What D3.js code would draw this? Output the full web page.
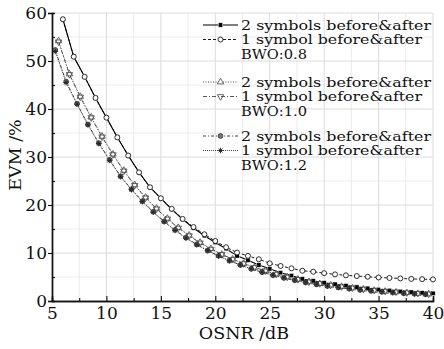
<!DOCTYPE html>
<html><head><meta charset="utf-8">
<script src="https://cdn.jsdelivr.net/npm/d3@7"></script>
<style>
html,body{margin:0;padding:0;background:#fff;}
svg{display:block;font-family:"DejaVu Serif",serif;}
</style></head>
<body><svg id="c" width="444" height="349"></svg>
<script>
// ---- data ----
const osnrA = [6,7,8,9,10,11,12,13,14,15,16,17,18,19,20,21,22,23,24,25,26,27,28,29,30,31,32,33,34,35,36,37,38,39,40];
const evmA  = [58.7,50.9,46.7,42.3,38.2,34.1,30.3,26.8,23.7,21.4,19.1,17.0,15.2,13.6,12.2,10.9,9.4,8.5,7.5,6.7,5.9,5.3,4.6,4.2,3.8,3.5,3.2,2.9,2.65,2.4,2.2,2.0,1.85,1.7,1.6];
const evmB  = [58.7,50.9,46.7,42.3,38.2,34.1,30.3,26.8,23.7,21.4,19.2,17.1,15.4,13.9,12.5,11.2,10.1,9.4,8.7,7.85,7.3,6.8,6.3,6.1,5.8,5.55,5.35,5.2,5.05,4.9,4.8,4.7,4.6,4.55,4.5];
const osnrC = [5.6,6.6,7.6,8.6,9.6,10.6,11.6,12.6,13.6,14.6,15.6,16.6,17.6,18.6,19.6,20.6,21.6,22.6,23.6,24.6,25.6,26.6,27.6,28.6,29.6,30.6,31.6,32.6,33.6,34.6,35.6,36.6,37.6,38.6,39.6];
const evmC  = [54.2,47.3,42.6,38.3,34.3,30.6,27.2,24.2,21.6,19.3,17.2,15.3,13.7,12.2,10.9,9.7,8.7,7.8,7.0,6.3,5.6,5.0,4.5,4.0,3.6,3.3,3.0,2.7,2.45,2.2,2.0,1.85,1.7,1.55,1.45];
const evmD  = [54.0,47.2,42.5,38.2,34.2,30.5,27.1,24.1,21.5,19.2,17.1,15.2,13.6,12.1,10.8,9.7,8.7,7.8,7.0,6.3,5.6,5.0,4.5,4.0,3.65,3.3,3.0,2.75,2.5,2.25,2.05,1.9,1.75,1.6,1.5];
const osnrE = [5.3,6.3,7.3,8.3,9.3,10.3,11.3,12.3,13.3,14.3,15.3,16.3,17.3,18.3,19.3,20.3,21.3,22.3,23.3,24.3,25.3,26.3,27.3,28.3,29.3,30.3,31.3,32.3,33.3,34.3,35.3,36.3,37.3,38.3,39.3];
const evmE  = [52.3,45.7,41.1,36.8,32.9,29.4,26.0,23.3,20.8,18.6,16.6,14.8,13.2,11.8,10.5,9.4,8.4,7.5,6.7,6.0,5.35,4.8,4.3,3.85,3.45,3.1,2.8,2.55,2.3,2.1,1.9,1.75,1.6,1.5,1.4];
const evmF  = [52.0,45.5,41.0,36.7,32.8,29.3,25.9,23.2,20.7,18.5,16.5,14.7,13.1,11.7,10.5,9.4,8.4,7.5,6.7,6.0,5.4,4.85,4.35,3.9,3.5,3.15,2.85,2.6,2.35,2.15,1.95,1.8,1.65,1.5,1.4];

const xTicks = [5,10,15,20,25,30,35,40];
const xMinor = [7.5,12.5,17.5,22.5,27.5,32.5,37.5];
const yTicks = [0,10,20,30,40,50,60];
const yMinor = [5,15,25,35,45,55];
const legendRows = [
  {label:"2 symbols before&after", s:0},
  {label:"1 symbol before&after",  s:1},
  {label:"BWO:0.8", s:-1},
  {label:"2 symbols before&after", s:2},
  {label:"1 symbol before&after",  s:3},
  {label:"BWO:1.0", s:-1},
  {label:"2 symbols before&after", s:4},
  {label:"1 symbol before&after",  s:5},
  {label:"BWO:1.2", s:-1}
];
const legendY = [25,39.5,54,82,96.5,111,136,150.5,165];
const legendW = {"2 symbols before&after":190, "1 symbol before&after":181, "BWO:0.8":66, "BWO:1.0":66, "BWO:1.2":66};

// ---- series styling ----
const series = [
  {x:osnrA, y:evmA, color:"#000", dash:null, width:1.1, marker:"square"},
  {x:osnrA, y:evmB, color:"#000", dash:"3,2", width:0.9, marker:"circle"},
  {x:osnrC, y:evmC, color:"#444", dash:"1,1.5", width:0.9, marker:"tri"},
  {x:osnrC, y:evmD, color:"#444", dash:"4,2,1,2", width:0.9, marker:"trid"},
  {x:osnrE, y:evmE, color:"#333", dash:"3,2,1,2", width:0.9, marker:"dot"},
  {x:osnrE, y:evmF, color:"#333", dash:"1,1", width:0.9, marker:"star"}
];

const svg = d3.select("#c");
const x = d3.scaleLinear().domain([5,40]).range([52,433]);
const y = d3.scaleLinear().domain([0,60]).range([301,13]);

// grid
const g = svg.append("g");
g.selectAll("line.gxm").data(xMinor).join("line")
  .attr("x1",d=>x(d)).attr("x2",d=>x(d)).attr("y1",y(0)).attr("y2",y(60))
  .attr("stroke","#ececec").attr("stroke-width",1);
g.selectAll("line.gym").data(yMinor).join("line")
  .attr("y1",d=>y(d)).attr("y2",d=>y(d)).attr("x1",x(5)).attr("x2",x(40))
  .attr("stroke","#ececec").attr("stroke-width",1);
g.selectAll("line.gx").data(xTicks.slice(1)).join("line")
  .attr("x1",d=>x(d)).attr("x2",d=>x(d)).attr("y1",y(0)).attr("y2",y(60))
  .attr("stroke","#dcdcdc").attr("stroke-width",1);
g.selectAll("line.gy").data(yTicks.slice(1)).join("line")
  .attr("y1",d=>y(d)).attr("y2",d=>y(d)).attr("x1",x(5)).attr("x2",x(40))
  .attr("stroke","#dcdcdc").attr("stroke-width",1);

// axes
const ax = svg.append("g").attr("transform",`translate(0,${y(0)})`)
  .call(d3.axisBottom(x).tickValues(xTicks).tickSize(-5).tickPadding(6).tickFormat(d3.format("d")));
const axm = svg.append("g").attr("transform",`translate(0,${y(0)})`)
  .call(d3.axisBottom(x).tickValues(xMinor).tickSize(-3).tickFormat(""));
const ay = svg.append("g").attr("transform",`translate(${x(5)},0)`)
  .call(d3.axisLeft(y).tickValues(yTicks).tickSize(4).tickPadding(1).tickFormat(d3.format("d")));
const aym = svg.append("g").attr("transform",`translate(${x(5)},0)`)
  .call(d3.axisLeft(y).tickValues(yMinor).tickSize(-3).tickFormat(""));
[ax,axm,ay,aym].forEach(a=>{
  a.select(".domain").attr("stroke","#111").attr("stroke-width",1.4);
  a.selectAll(".tick line").attr("stroke","#111").attr("stroke-width",1.1);
  a.selectAll("text").attr("font-family","DejaVu Serif, serif").attr("font-size",17).attr("fill","#111");
});

// axis titles
svg.append("text").attr("x",244).attr("y",339).attr("text-anchor","middle")
  .attr("font-size",17.5).attr("fill","#111").text("OSNR /dB");
svg.append("text").attr("transform","translate(21,155) rotate(-90)").attr("text-anchor","middle")
  .attr("font-size",17.5).attr("fill","#111").text("EVM /%");

// markers
function drawMarker(sel, type, color){
  if(type==="square"){
    sel.append("rect").attr("x",-2.2).attr("y",-2.2).attr("width",4.4).attr("height",4.4)
      .attr("fill","#000").attr("stroke","#fff").attr("stroke-width",0.5);
  } else if(type==="circle"){
    sel.append("circle").attr("r",2.5).attr("fill","#fff").attr("stroke","#000").attr("stroke-width",0.8);
  } else if(type==="tri"){
    sel.append("path").attr("d",d3.symbol(d3.symbolTriangle,18)()).attr("fill","#fff").attr("stroke",color).attr("stroke-width",0.8);
  } else if(type==="trid"){
    sel.append("path").attr("d",d3.symbol(d3.symbolTriangle,18)()).attr("transform","rotate(180)")
      .attr("fill","none").attr("stroke",color).attr("stroke-width",0.8);
  } else if(type==="dot"){
    sel.append("circle").attr("r",2.4).attr("fill","#777").attr("stroke","#222").attr("stroke-width",0.7);
  } else if(type==="star"){
    const r=2.8;
    sel.append("path").attr("d",`M${-r},0L${r},0M0,${-r}L0,${r}M${-r*0.7},${-r*0.7}L${r*0.7},${r*0.7}M${-r*0.7},${r*0.7}L${r*0.7},${-r*0.7}`)
      .attr("stroke","#222").attr("stroke-width",0.9).attr("fill","none");
  }
}

const line = d3.line().x(d=>x(d[0])).y(d=>y(d[1]));
series.forEach(s=>{
  const pts = s.x.map((v,i)=>[v,s.y[i]]);
  svg.append("path").datum(pts).attr("d",line).attr("fill","none")
    .attr("stroke",s.color).attr("stroke-width",s.width).attr("stroke-dasharray",s.dash);
});
series.forEach(s=>{
  const pts = s.x.map((v,i)=>[v,s.y[i]]);
  svg.append("g").selectAll("g").data(pts).join("g")
    .attr("transform",d=>`translate(${x(d[0])},${y(d[1])})`)
    .each(function(){ drawMarker(d3.select(this), s.marker, s.color); });
});

// legend
const lg = svg.append("g");
legendRows.forEach((r,i)=>{
  const yy = legendY[i];
  if(r.s>=0){
    const s = series[r.s];
    lg.append("line").attr("x1",203).attr("x2",238).attr("y1",yy).attr("y2",yy)
      .attr("stroke",s.color).attr("stroke-width",s.width).attr("stroke-dasharray",s.dash);
    const m = lg.append("g").attr("transform",`translate(220.5,${yy})`);
    drawMarker(m, s.marker, s.color);
  }
  lg.append("text").attr("x",241).attr("y",yy).attr("dy","0.36em")
    .attr("font-size",13.5).attr("fill","#111")
    .attr("textLength",legendW[r.label]).attr("lengthAdjust","spacingAndGlyphs")
    .text(r.label);
});
</script></body></html>
